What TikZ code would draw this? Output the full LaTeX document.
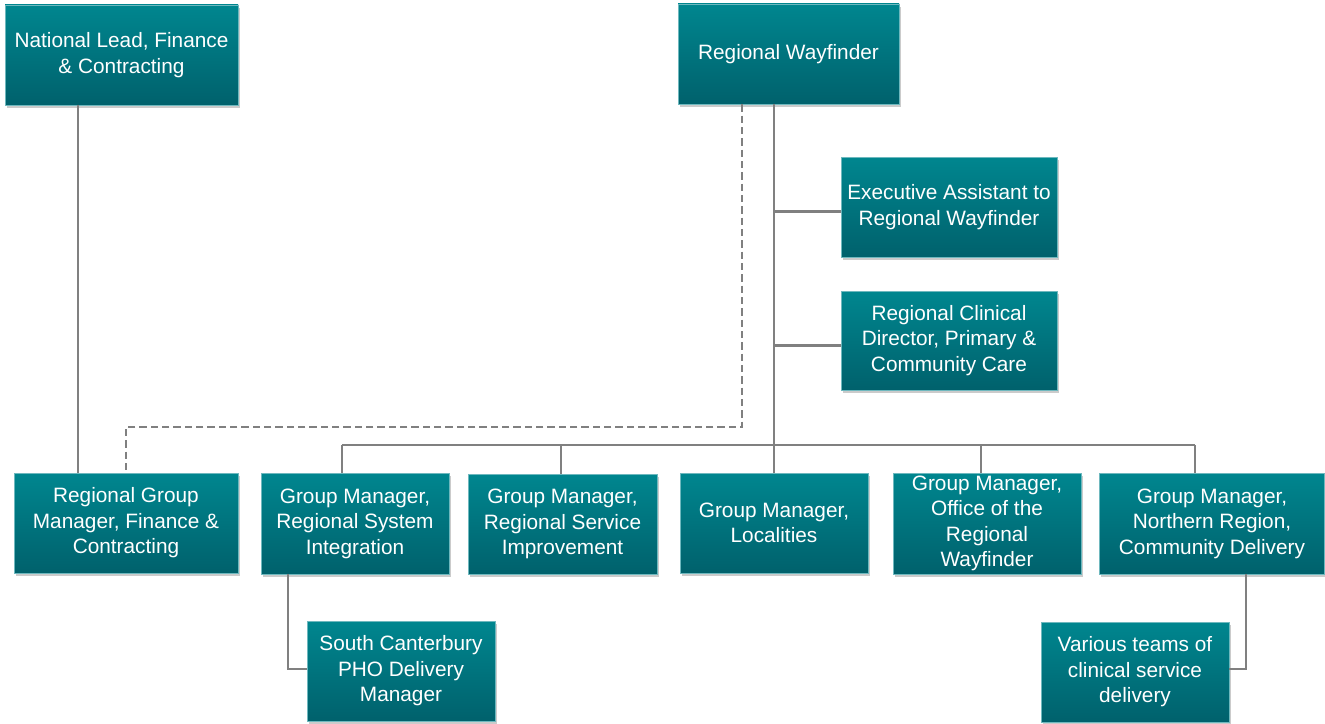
\documentclass[tikz,border=0pt]{standalone}
\usepackage{fontspec}
\setmainfont{Liberation Sans}
\usetikzlibrary{shadows}

\definecolor{tealtop}{RGB}{0,134,143}
\definecolor{tealbot}{RGB}{0,97,108}
\definecolor{tealedge}{RGB}{110,184,190}
\definecolor{linkgray}{RGB}{128,128,128}

\tikzset{
  orgbox/.style={rectangle, top color=tealtop, bottom color=tealbot, draw=tealedge, line width=0.6pt,
    text=white, align=center, inner sep=0.75pt,
    font=\fontsize{15.6}{19.1}\selectfont,
    drop shadow={shadow xshift=1.2pt, shadow yshift=-2.4pt, fill=black!45, opacity=0.45}},
  link/.style={draw=linkgray, line width=2.2pt},
  dashlink/.style={draw=linkgray, line width=2.2pt, dash pattern=on 5.5pt off 3pt}
}

\begin{document}
\begin{tikzpicture}[x=0.75pt,y=0.75pt,yscale=-1,xscale=1]
    \useasboundingbox (0,0) rectangle (1325,724);

    % Top row
    \node (natlead) at (121.5,55) [orgbox, minimum width=174.75pt, minimum height=75pt] {National Lead, Finance\\ \& Contracting};
    \node (wayfinder) at (788.5,54) [orgbox, minimum width=165.75pt, minimum height=75pt] {Regional Wayfinder};
    % Staff boxes
    \node (execasst) at (949,207) [orgbox, minimum width=162pt, minimum height=75pt] {Executive Assistant to\\ Regional Wayfinder};
    \node (clindir) at (949,340.5) [orgbox, minimum width=162pt, minimum height=74.25pt] {Regional Clinical\\ Director, Primary \&\\ Community Care};

    % Group managers row
    \node (rgmfin) at (126,523) [orgbox, minimum width=168pt, minimum height=75pt] {Regional Group\\ Manager, Finance \&\\ Contracting};
    \node (gmrsi) at (355,523.5) [orgbox, minimum width=141pt, minimum height=75.75pt] {Group Manager,\\ Regional System\\ Integration};
    \node (gmrsimp) at (562.5,524) [orgbox, minimum width=141.75pt, minimum height=75pt] {Group Manager,\\ Regional Service\\ Improvement};
    \node (gmloc) at (774,523) [orgbox, minimum width=141pt, minimum height=75pt] {Group Manager,\\ Localities};
    \node (gmorw) at (987,523.5) [orgbox, minimum width=141pt, minimum height=75.75pt] {Group Manager,\\ Office of the\\ Regional\\ Wayfinder};
    \node (gmnorth) at (1212,523.5) [orgbox, minimum width=168.75pt, minimum height=75.75pt] {Group Manager,\\ Northern Region,\\ Community Delivery};

    % Bottom row
    \node (scpho) at (401,671) [orgbox, minimum width=141pt, minimum height=75pt] {South Canterbury\\ PHO Delivery\\ Manager};
    \node (various) at (1135,672) [orgbox, minimum width=141pt, minimum height=75pt] {Various teams of\\ clinical service\\ delivery};

    % Helper coordinates
    \coordinate (natx) at (78,0);
    \coordinate (dashx) at (742,0);
    \coordinate (dashy) at (0,427);
    \coordinate (rsidrop) at (342,445);
    \coordinate (rsimpdrop) at (561,445);
    \coordinate (orwdrop) at (981,445);
    \coordinate (northdrop) at (1195,445);
    \coordinate (rsix) at (288,0);
    \coordinate (northx) at (1246,0);

    % Solid lines
    \draw [link] (natx |- natlead.south) -- (natx |- rgmfin.north);
    \draw [link] (wayfinder.south -| gmloc.north) -- (gmloc.north);
    \draw [link] ([yshift=3.5pt]execasst.west) -- ([yshift=3.5pt]execasst.west -| gmloc.north);
    \draw [link] ([yshift=3.5pt]clindir.west) -- ([yshift=3.5pt]clindir.west -| gmloc.north);
    \draw [link] (rsidrop) -- (northdrop);
    \draw [link] (rsidrop) -- (rsidrop |- gmrsi.north);
    \draw [link] (rsimpdrop) -- (rsimpdrop |- gmrsimp.north);
    \draw [link] (orwdrop) -- (orwdrop |- gmorw.north);
    \draw [link] (northdrop) -- (northdrop |- gmnorth.north);
    \draw [link] (rsix |- gmrsi.south) |- ([yshift=-1.5pt]scpho.west);
    \draw [link] (northx |- gmnorth.south) |- ([yshift=-2.25pt]various.east);

    % Dashed line
    \draw [dashlink] (dashx |- wayfinder.south) |- (dashy -| rgmfin.north) -- (rgmfin.north);

\end{tikzpicture}
\end{document}
